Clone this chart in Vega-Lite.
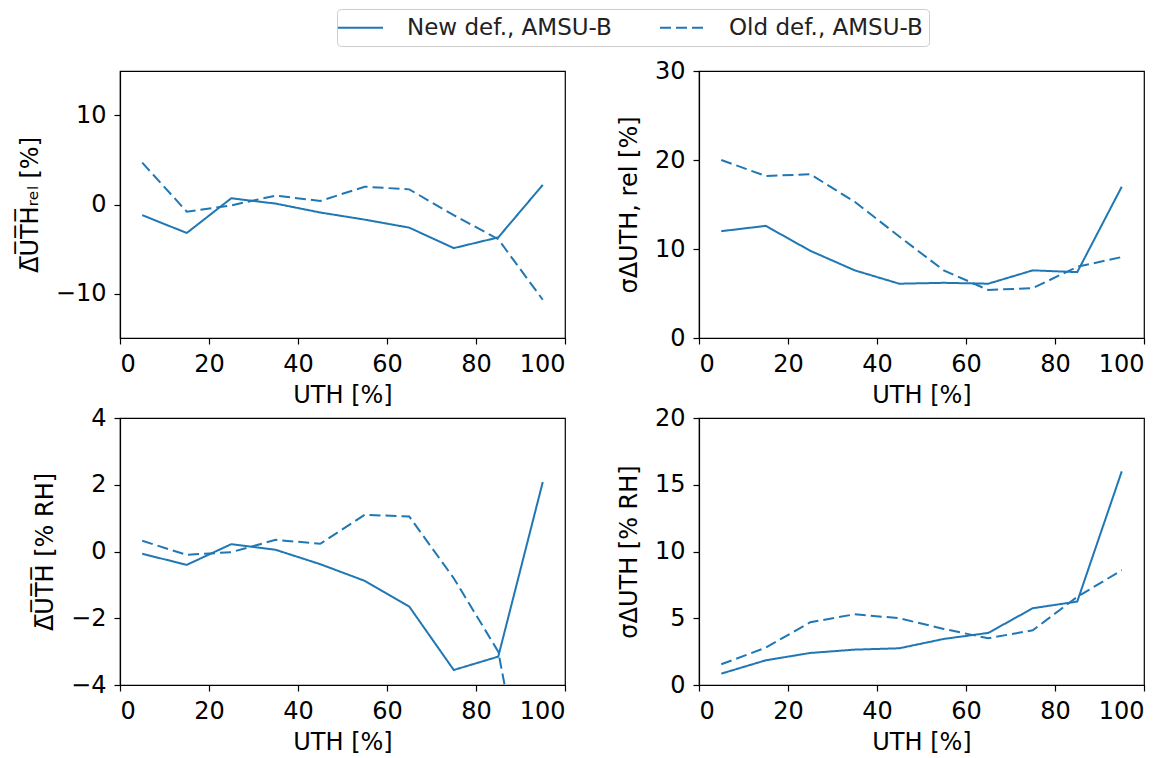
{
  "$schema": "https://vega.github.io/schema/vega-lite/v6.json",
  "padding": {"left": 17, "top": 8, "right": 5, "bottom": 5},
  "background": "white",
  "config": {
    "font": "DejaVu Sans",
    "view": {"stroke": "black", "strokeWidth": 1.2},
    "axis": {
      "grid": false,
      "domainColor": "black",
      "domainWidth": 1.2,
      "tickColor": "black",
      "tickWidth": 1.2,
      "tickSize": 6,
      "labelFontSize": 24,
      "labelColor": "black",
      "labelPadding": 8,
      "titleFontSize": 24,
      "titleFontWeight": "normal",
      "titleColor": "black",
      "labelFont": "DejaVu Sans",
      "titleFont": "DejaVu Sans"
    },
    "legend": {
      "orient": "none",
      "legendX": 217,
      "legendY": -62,
      "direction": "horizontal",
      "columns": 2,
      "columnPadding": 43,
      "labelFontSize": 23,
      "labelLimit": 400,
      "labelColor": "#222222",
      "labelFont": "DejaVu Sans",
      "symbolType": "M-1.556,0L2.444,0",
      "symbolSize": 506,
      "symbolStrokeWidth": 2,
      "symbolStrokeColor": "#1f77b4",
      "strokeColor": "#cccccc",
      "cornerRadius": 4,
      "padding": 6,
      "fillColor": "white",
      "labelOffset": 39
    }
  },
  "datasets": {
    "d": [
      {"panel": "a", "series": "New def., AMSU-B", "uth": 5, "value": -1.2},
      {"panel": "a", "series": "New def., AMSU-B", "uth": 15, "value": -3.2},
      {"panel": "a", "series": "New def., AMSU-B", "uth": 25, "value": 0.7},
      {"panel": "a", "series": "New def., AMSU-B", "uth": 35, "value": 0.1},
      {"panel": "a", "series": "New def., AMSU-B", "uth": 45, "value": -0.9},
      {"panel": "a", "series": "New def., AMSU-B", "uth": 55, "value": -1.7},
      {"panel": "a", "series": "New def., AMSU-B", "uth": 65, "value": -2.6},
      {"panel": "a", "series": "New def., AMSU-B", "uth": 75, "value": -4.9},
      {"panel": "a", "series": "New def., AMSU-B", "uth": 85, "value": -3.7},
      {"panel": "a", "series": "New def., AMSU-B", "uth": 95, "value": 2.2},
      {"panel": "a", "series": "Old def., AMSU-B", "uth": 5, "value": 4.7},
      {"panel": "a", "series": "Old def., AMSU-B", "uth": 15, "value": -0.8},
      {"panel": "a", "series": "Old def., AMSU-B", "uth": 25, "value": -0.1},
      {"panel": "a", "series": "Old def., AMSU-B", "uth": 35, "value": 1.0},
      {"panel": "a", "series": "Old def., AMSU-B", "uth": 45, "value": 0.4},
      {"panel": "a", "series": "Old def., AMSU-B", "uth": 55, "value": 2.0},
      {"panel": "a", "series": "Old def., AMSU-B", "uth": 65, "value": 1.7},
      {"panel": "a", "series": "Old def., AMSU-B", "uth": 75, "value": -1.2},
      {"panel": "a", "series": "Old def., AMSU-B", "uth": 85, "value": -3.9},
      {"panel": "a", "series": "Old def., AMSU-B", "uth": 95, "value": -10.7},

      {"panel": "b", "series": "New def., AMSU-B", "uth": 5, "value": 12.0},
      {"panel": "b", "series": "New def., AMSU-B", "uth": 15, "value": 12.6},
      {"panel": "b", "series": "New def., AMSU-B", "uth": 25, "value": 9.8},
      {"panel": "b", "series": "New def., AMSU-B", "uth": 35, "value": 7.6},
      {"panel": "b", "series": "New def., AMSU-B", "uth": 45, "value": 6.1},
      {"panel": "b", "series": "New def., AMSU-B", "uth": 55, "value": 6.2},
      {"panel": "b", "series": "New def., AMSU-B", "uth": 65, "value": 6.1},
      {"panel": "b", "series": "New def., AMSU-B", "uth": 75, "value": 7.6},
      {"panel": "b", "series": "New def., AMSU-B", "uth": 85, "value": 7.4},
      {"panel": "b", "series": "New def., AMSU-B", "uth": 95, "value": 17.0},
      {"panel": "b", "series": "Old def., AMSU-B", "uth": 5, "value": 20.0},
      {"panel": "b", "series": "Old def., AMSU-B", "uth": 15, "value": 18.2},
      {"panel": "b", "series": "Old def., AMSU-B", "uth": 25, "value": 18.4},
      {"panel": "b", "series": "Old def., AMSU-B", "uth": 35, "value": 15.3},
      {"panel": "b", "series": "Old def., AMSU-B", "uth": 45, "value": 11.4},
      {"panel": "b", "series": "Old def., AMSU-B", "uth": 55, "value": 7.6},
      {"panel": "b", "series": "Old def., AMSU-B", "uth": 65, "value": 5.4},
      {"panel": "b", "series": "Old def., AMSU-B", "uth": 75, "value": 5.6},
      {"panel": "b", "series": "Old def., AMSU-B", "uth": 85, "value": 8.0},
      {"panel": "b", "series": "Old def., AMSU-B", "uth": 95, "value": 9.1},

      {"panel": "c", "series": "New def., AMSU-B", "uth": 5, "value": -0.07},
      {"panel": "c", "series": "New def., AMSU-B", "uth": 15, "value": -0.4},
      {"panel": "c", "series": "New def., AMSU-B", "uth": 25, "value": 0.22},
      {"panel": "c", "series": "New def., AMSU-B", "uth": 35, "value": 0.05},
      {"panel": "c", "series": "New def., AMSU-B", "uth": 45, "value": -0.38},
      {"panel": "c", "series": "New def., AMSU-B", "uth": 55, "value": -0.88},
      {"panel": "c", "series": "New def., AMSU-B", "uth": 65, "value": -1.65},
      {"panel": "c", "series": "New def., AMSU-B", "uth": 75, "value": -3.55},
      {"panel": "c", "series": "New def., AMSU-B", "uth": 85, "value": -3.15},
      {"panel": "c", "series": "New def., AMSU-B", "uth": 95, "value": 2.08},
      {"panel": "c", "series": "Old def., AMSU-B", "uth": 5, "value": 0.32},
      {"panel": "c", "series": "Old def., AMSU-B", "uth": 15, "value": -0.1},
      {"panel": "c", "series": "Old def., AMSU-B", "uth": 25, "value": -0.02},
      {"panel": "c", "series": "Old def., AMSU-B", "uth": 35, "value": 0.35},
      {"panel": "c", "series": "Old def., AMSU-B", "uth": 45, "value": 0.23},
      {"panel": "c", "series": "Old def., AMSU-B", "uth": 55, "value": 1.1},
      {"panel": "c", "series": "Old def., AMSU-B", "uth": 65, "value": 1.05},
      {"panel": "c", "series": "Old def., AMSU-B", "uth": 75, "value": -0.8},
      {"panel": "c", "series": "Old def., AMSU-B", "uth": 85, "value": -3.0},
      {"panel": "c", "series": "Old def., AMSU-B", "uth": 95, "value": -10.0},

      {"panel": "d", "series": "New def., AMSU-B", "uth": 5, "value": 0.85},
      {"panel": "d", "series": "New def., AMSU-B", "uth": 15, "value": 1.85},
      {"panel": "d", "series": "New def., AMSU-B", "uth": 25, "value": 2.4},
      {"panel": "d", "series": "New def., AMSU-B", "uth": 35, "value": 2.65},
      {"panel": "d", "series": "New def., AMSU-B", "uth": 45, "value": 2.75},
      {"panel": "d", "series": "New def., AMSU-B", "uth": 55, "value": 3.45},
      {"panel": "d", "series": "New def., AMSU-B", "uth": 65, "value": 3.9},
      {"panel": "d", "series": "New def., AMSU-B", "uth": 75, "value": 5.75},
      {"panel": "d", "series": "New def., AMSU-B", "uth": 85, "value": 6.25},
      {"panel": "d", "series": "New def., AMSU-B", "uth": 95, "value": 16.0},
      {"panel": "d", "series": "Old def., AMSU-B", "uth": 5, "value": 1.55},
      {"panel": "d", "series": "Old def., AMSU-B", "uth": 15, "value": 2.8},
      {"panel": "d", "series": "Old def., AMSU-B", "uth": 25, "value": 4.7},
      {"panel": "d", "series": "Old def., AMSU-B", "uth": 35, "value": 5.3},
      {"panel": "d", "series": "Old def., AMSU-B", "uth": 45, "value": 5.0},
      {"panel": "d", "series": "Old def., AMSU-B", "uth": 55, "value": 4.2},
      {"panel": "d", "series": "Old def., AMSU-B", "uth": 65, "value": 3.5},
      {"panel": "d", "series": "Old def., AMSU-B", "uth": 75, "value": 4.1},
      {"panel": "d", "series": "Old def., AMSU-B", "uth": 85, "value": 6.6},
      {"panel": "d", "series": "Old def., AMSU-B", "uth": 95, "value": 8.6}
    ]
  },
  "data": {"name": "d"},
  "columns": 2,
  "spacing": {"row": 80, "column": 134},
  "bounds": "flush",
  "concat": [
    {
      "width": 445, "height": 267,
      "transform": [{"filter": "datum.panel === 'a'"}],
      "mark": {"type": "line", "strokeWidth": 2, "color": "#1f77b4", "clip": true},
      "encoding": {
        "x": {"field": "uth", "type": "quantitative", "title": "UTH [%]", "scale": {"domain": [0, 100], "nice": false}, "axis": {"values": [0, 20, 40, 60, 80, 100], "titlePadding": 7}},
        "y": {"field": "value", "type": "quantitative", "title": "Δ̅U̅T̅H̅ᵣₑₗ [%]", "scale": {"domain": [-15, 15], "nice": false}, "axis": {"values": [-10, 0, 10], "titlePadding": 13}},
        "strokeDash": {"field": "series", "type": "nominal", "title": null, "scale": {"domain": ["New def., AMSU-B", "Old def., AMSU-B"], "range": [[1, 0], [11, 5]]}}
      }
    },
    {
      "width": 445, "height": 267,
      "transform": [{"filter": "datum.panel === 'b'"}],
      "mark": {"type": "line", "strokeWidth": 2, "color": "#1f77b4", "clip": true},
      "encoding": {
        "x": {"field": "uth", "type": "quantitative", "title": "UTH [%]", "scale": {"domain": [0, 100], "nice": false}, "axis": {"values": [0, 20, 40, 60, 80, 100], "titlePadding": 7}},
        "y": {"field": "value", "type": "quantitative", "title": "σΔUTH, rel [%]", "scale": {"domain": [0, 30], "nice": false}, "axis": {"values": [0, 10, 20, 30], "titlePadding": 13}},
        "strokeDash": {"field": "series", "type": "nominal", "title": null, "scale": {"domain": ["New def., AMSU-B", "Old def., AMSU-B"], "range": [[1, 0], [11, 5]]}}
      }
    },
    {
      "width": 445, "height": 267,
      "transform": [{"filter": "datum.panel === 'c'"}],
      "mark": {"type": "line", "strokeWidth": 2, "color": "#1f77b4", "clip": true},
      "encoding": {
        "x": {"field": "uth", "type": "quantitative", "title": "UTH [%]", "scale": {"domain": [0, 100], "nice": false}, "axis": {"values": [0, 20, 40, 60, 80, 100], "titlePadding": 7}},
        "y": {"field": "value", "type": "quantitative", "title": "Δ̅U̅T̅H̅ [% RH]", "scale": {"domain": [-4, 4], "nice": false}, "axis": {"values": [-4, -2, 0, 2, 4], "titlePadding": 13}},
        "strokeDash": {"field": "series", "type": "nominal", "title": null, "scale": {"domain": ["New def., AMSU-B", "Old def., AMSU-B"], "range": [[1, 0], [11, 5]]}}
      }
    },
    {
      "width": 445, "height": 267,
      "transform": [{"filter": "datum.panel === 'd'"}],
      "mark": {"type": "line", "strokeWidth": 2, "color": "#1f77b4", "clip": true},
      "encoding": {
        "x": {"field": "uth", "type": "quantitative", "title": "UTH [%]", "scale": {"domain": [0, 100], "nice": false}, "axis": {"values": [0, 20, 40, 60, 80, 100], "titlePadding": 7}},
        "y": {"field": "value", "type": "quantitative", "title": "σΔUTH [% RH]", "scale": {"domain": [0, 20], "nice": false}, "axis": {"values": [0, 5, 10, 15, 20], "titlePadding": 13}},
        "strokeDash": {"field": "series", "type": "nominal", "title": null, "scale": {"domain": ["New def., AMSU-B", "Old def., AMSU-B"], "range": [[1, 0], [11, 5]]}}
      }
    }
  ],
  "resolve": {"scale": {"strokeDash": "shared"}, "legend": {"strokeDash": "shared"}}
}
